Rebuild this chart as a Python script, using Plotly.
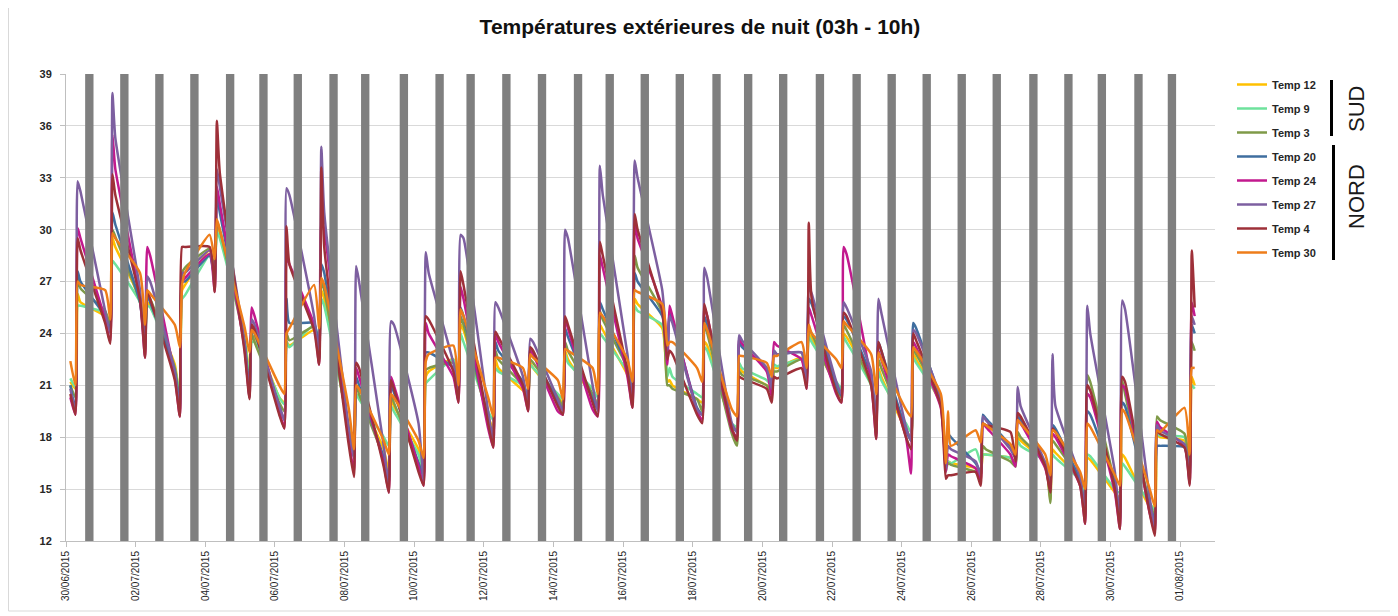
import plotly.graph_objects as go
from datetime import datetime, timedelta

# ---------------- data ----------------
start_day = "2015-06-30"
n_days = 33
# sampled hours of each night: 03h, trough before sunrise, peak, 10h
sample_hours = [3.0, 6.5, 8.0, 10.0]

series_names = ["Temp 12", "Temp 9", "Temp 3", "Temp 20", "Temp 24", "Temp 27", "Temp 4", "Temp 30"]
series_colors = ["#FFC000", "#6EE29C", "#7F9A48", "#3F6E9F", "#C2198E", "#7D5FA0", "#9E3039", "#EE7D1A"]

temp_12 = [[21.2,20.8,26.3,25.8],[25.0,24.5,29.5,29.0],[26.0,23.8,25.8,25.6],[22.2,20.3,26.5,26.8],
           [28.8,27.8,30.2,29.8],[24.0,21.5,23.8,23.8],[20.3,20.0,23.5,23.3],[24.2,23.5,26.5,26.0],
           [18.5,17.2,20.5,20.3],[17.3,16.0,20.2,19.8],[17.3,16.0,21.5,21.8],[22.5,21.0,24.5,24.2],
           [19.2,18.5,22.5,22.0],[20.7,20.3,22.3,22.0],[20.3,20.0,23.0,22.5],[20.4,20.0,24.5,24.2],
           [21.6,20.5,26.0,25.7],[24.3,21.2,21.3,21.0],[20.2,20.0,23.5,23.3],[18.7,18.5,22.0,21.8],
           [21.0,20.8,22.0,22.0],[22.6,21.8,24.0,23.7],[21.0,20.6,24.0,23.8],[21.2,19.0,22.0,21.5],
           [18.4,18.0,22.8,22.5],[19.9,16.2,16.6,16.5],[16.2,15.8,17.0,17.0],[16.8,16.5,18.0,17.8],
           [16.5,14.4,17.3,17.1],[15.6,14.5,16.8,16.7],[14.8,14.5,17.0,16.8],[14.0,14.0,18.2,18.0],
           [17.8,16.2,21.5,21.0]]
temp_9 = [[21.4,20.9,25.6,25.6],[25.2,24.6,28.2,28.0],[25.8,24.0,25.6,25.5],[22.0,20.5,26.0,26.2],
          [28.5,27.5,29.9,29.5],[23.8,21.3,23.5,23.5],[20.3,19.9,23.5,23.2],[24.5,23.6,26.0,25.6],
          [18.6,17.2,20.5,20.2],[18.0,17.5,19.8,19.5],[17.0,16.0,21.1,21.3],[22.5,21.0,24.0,23.5],
          [19.5,19.0,22.0,21.8],[21.0,20.5,22.2,22.0],[20.5,20.2,22.8,22.3],[20.8,20.3,24.0,23.8],
          [21.8,20.8,25.6,25.3],[24.5,21.5,22.0,21.5],[20.5,20.3,23.2,23.0],[18.8,18.6,22.3,22.0],
          [21.3,21.0,22.2,22.1],[22.5,21.8,23.8,23.5],[21.2,20.8,23.8,23.5],[21.0,19.5,21.8,21.3],
          [18.8,18.3,22.6,22.3],[20.0,16.0,16.6,16.5],[17.3,16.5,17.0,17.0],[16.8,16.5,17.8,17.5],
          [16.6,15.3,17.0,16.8],[15.5,14.5,17.0,16.9],[15.0,14.8,16.5,16.3],[14.2,13.8,18.2,18.1],
          [18.0,16.3,21.0,20.8]]
temp_3 = [[21.0,20.3,27.2,26.6],[25.3,24.5,30.0,29.6],[25.8,23.5,26.2,26.0],[22.0,20.0,27.5,27.8],
          [28.9,27.5,30.5,30.0],[23.5,20.8,24.0,23.5],[20.0,19.5,24.0,23.6],[24.4,23.3,27.0,26.5],
          [18.3,16.8,21.0,20.5],[16.8,15.5,20.5,20.0],[16.5,15.8,21.9,22.0],[22.3,20.8,25.0,24.5],
          [19.0,18.0,23.0,22.5],[21.0,20.0,22.5,22.3],[20.3,19.8,23.5,23.0],[20.5,19.8,25.3,24.8],
          [22.0,20.3,28.5,27.8],[25.2,21.0,21.0,20.8],[20.2,19.5,24.5,24.0],[18.2,17.5,21.8,21.6],
          [21.0,20.5,21.8,21.8],[22.5,21.5,24.3,24.0],[20.8,20.3,24.5,24.2],[21.0,18.5,22.5,22.0],
          [18.5,17.8,23.0,22.8],[20.0,16.3,16.5,16.4],[16.0,15.8,17.5,17.3],[16.6,16.3,18.3,18.0],
          [16.5,14.2,17.8,17.6],[15.5,13.8,21.6,21.2],[15.3,13.5,21.3,20.5],[14.2,13.5,19.2,19.0],
          [18.2,16.0,23.5,23.0]]
temp_20 = [[21.0,19.6,27.6,27.0],[25.0,24.2,31.0,30.3],[25.8,23.2,26.2,25.8],[21.8,19.8,27.0,27.0],
           [28.5,27.2,32.0,31.0],[23.5,20.6,24.3,24.0],[19.8,19.0,26.0,24.6],[24.6,23.0,28.0,27.5],
           [18.3,16.8,21.5,21.0],[16.8,15.3,21.0,20.6],[16.5,15.7,22.9,22.9],[22.0,20.5,25.5,25.0],
           [19.0,18.0,23.5,23.0],[21.2,20.0,23.0,22.8],[20.0,19.6,24.3,23.8],[20.2,19.6,25.8,25.4],
           [22.0,20.2,27.5,27.0],[25.0,22.8,25.3,24.8],[19.7,19.3,25.0,24.5],[18.7,18.3,23.5,23.2],
           [22.0,20.8,23.0,22.8],[22.9,21.5,26.0,25.7],[21.0,20.4,25.0,24.8],[21.5,18.5,23.5,23.0],
           [18.4,17.8,24.6,24.3],[20.0,16.5,18.2,18.0],[16.5,16.0,19.3,19.1],[17.5,16.8,19.2,19.0],
           [16.4,15.2,18.7,18.5],[15.5,13.8,19.5,19.3],[15.3,13.5,20.0,19.8],[14.0,13.3,17.5,17.5],
           [17.4,15.8,24.5,24.0]]
temp_24 = [[20.3,19.3,30.1,29.5],[24.8,23.5,35.5,33.5],[26.0,22.6,29.0,28.5],[21.5,19.2,27.0,27.2],
           [28.6,26.4,32.5,31.5],[23.2,20.3,25.5,25.0],[19.5,18.5,28.4,28.0],[24.5,22.2,30.5,30.0],
           [17.8,16.0,22.0,21.5],[16.5,14.8,21.5,21.0],[16.3,15.2,24.6,24.0],[21.5,20.0,26.7,26.0],
           [18.5,17.4,24.0,23.5],[20.8,19.5,23.0,22.8],[19.5,19.3,24.8,24.3],[19.6,19.2,28.5,27.8],
           [21.5,19.7,30.3,29.5],[25.5,22.2,25.6,25.0],[19.5,19.0,25.5,25.0],[18.4,18.0,23.7,23.4],
           [21.8,20.3,23.5,23.3],[22.5,20.8,25.5,25.0],[20.5,20.0,29.0,28.6],[21.2,17.9,23.0,22.5],
           [18.0,15.9,23.5,23.2],[19.7,16.0,17.0,16.9],[16.2,15.5,18.8,18.6],[17.0,16.3,19.0,18.8],
           [16.2,15.0,18.2,18.0],[15.2,13.0,20.5,20.3],[14.8,12.7,21.0,20.8],[13.6,12.5,18.9,18.6],
           [17.5,15.3,25.8,25.0]]
temp_27 = [[20.8,19.5,32.8,32.2],[25.3,24.0,37.9,35.3],[26.5,23.0,27.3,27.0],[21.8,19.5,27.5,27.5],
           [28.8,26.8,33.5,32.5],[23.5,20.3,24.8,24.5],[19.8,19.0,32.4,32.0],[25.0,22.5,34.8,31.0],
           [18.5,16.8,27.9,27.0],[17.5,15.2,24.7,24.5],[18.8,15.5,28.7,27.5],[22.3,20.3,29.7,29.5],
           [19.5,17.8,25.8,25.5],[21.5,19.8,23.7,23.5],[20.2,19.5,30.0,29.5],[21.0,19.5,33.7,32.0],
           [22.8,20.0,34.0,33.0],[26.5,23.0,25.0,24.6],[19.6,19.3,27.8,27.2],[18.8,18.3,23.9,23.6],
           [22.0,20.8,23.0,22.8],[22.9,21.2,26.7,26.3],[21.2,20.5,25.8,25.5],[21.8,18.2,26.0,25.2],
           [18.6,17.8,24.2,24.0],[20.2,16.2,17.5,17.3],[16.6,15.8,19.2,19.0],[17.3,16.8,20.9,19.8],
           [16.5,15.3,22.8,19.8],[15.7,13.5,25.6,24.0],[16.0,13.2,25.9,25.4],[14.5,12.7,18.7,18.4],
           [17.6,15.5,25.0,24.5]]
temp_4 = [[20.5,19.3,29.5,28.8],[24.6,23.4,33.2,32.0],[26.0,22.6,26.5,26.0],[21.3,19.2,29.0,29.0],
          [29.0,26.4,36.3,33.3],[23.0,20.2,24.5,24.2],[19.3,18.5,30.2,28.0],[24.2,22.2,33.6,29.0],
          [17.5,15.7,22.3,22.0],[16.3,14.8,21.3,20.8],[16.0,15.2,25.0,24.8],[21.8,20.0,27.6,26.8],
          [18.8,17.4,24.1,23.8],[21.0,19.5,23.2,23.0],[19.8,19.3,25.0,24.5],[20.0,19.2,29.3,28.5],
          [21.8,19.7,30.9,30.0],[25.3,22.5,23.0,22.8],[19.3,18.8,25.7,25.0],[18.5,17.8,21.5,21.4],
          [20.8,20.0,21.5,21.4],[22.0,20.8,30.4,26.0],[20.6,20.0,25.2,25.0],[21.0,17.9,23.5,23.0],
          [18.0,17.3,24.0,23.6],[19.8,15.6,15.8,15.8],[16.0,15.2,18.8,18.7],[18.3,16.6,19.4,19.2],
          [16.3,14.8,18.5,18.3],[15.2,13.0,21.0,20.7],[15.0,12.7,21.5,21.2],[13.6,12.3,18.4,18.2],
          [17.4,15.2,28.8,25.5]]
temp_30 = [[22.4,21.0,27.0,26.8],[26.5,24.8,29.8,29.5],[27.5,24.5,26.5,26.3],[24.5,23.2,26.8,27.5],
           [29.7,28.3,30.6,30.0],[24.4,22.9,24.2,24.0],[21.0,20.5,24.0,24.3],[26.8,24.3,27.2,26.8],
           [19.6,17.3,21.0,20.8],[17.8,17.0,20.5,20.3],[17.8,16.8,22.4,22.8],[23.3,21.0,25.4,25.0],
           [20.3,19.2,22.6,22.6],[22.0,20.8,22.8,22.6],[21.3,20.2,23.1,23.0],[22.0,20.5,25.2,25.0],
           [22.5,21.2,26.5,26.4],[25.7,23.3,23.5,23.5],[22.0,21.2,24.6,24.2],[19.6,19.2,22.7,22.7],
           [22.3,21.5,22.7,22.7],[23.5,22.0,24.5,24.0],[22.5,22.0,24.7,24.5],[22.8,20.5,22.9,22.5],
           [19.6,19.2,23.2,23.0],[20.5,16.5,19.5,17.5],[18.4,17.7,18.8,18.7],[17.6,17.0,19.0,18.8],
           [17.0,15.8,18.4,18.3],[16.0,15.0,18.8,18.6],[15.8,15.2,19.6,19.4],[15.0,14.0,18.4,18.3],
           [19.7,17.0,22.0,22.0]]

series_values = [temp_12, temp_9, temp_3, temp_20, temp_24, temp_27, temp_4, temp_30]

# grey day markers (day offset from 30/06, fractional)
bar_days = [0.670, 1.676, 2.682, 3.688, 4.714, 5.671, 6.657, 7.684, 8.594, 9.704, 10.730,
            11.621, 12.648, 13.671, 14.706, 15.616, 16.623, 17.629, 18.684, 19.592, 20.598,
            21.653, 22.708, 23.714, 24.720, 25.726, 26.732, 27.784, 28.790, 29.750, 30.802, 31.763]
bar_top = 39
axis_min = 12

# ---------------- build ----------------
t0 = datetime.strptime(start_day, "%Y-%m-%d")
times = []
for d in range(n_days):
    for h in sample_hours:
        times.append(t0 + timedelta(days=d, hours=h))

fig = go.Figure()
for name, color, vals in zip(series_names, series_colors, series_values):
    y = [v for day in vals for v in day]
    fig.add_trace(go.Scatter(
        x=times, y=y, mode="lines", name=name, legendgroup=name,
        line=dict(color=color, width=2.5, shape="spline", smoothing=0.5),
        hoverinfo="x+y+name"))

bar_x = [t0 + timedelta(days=b) for b in bar_days]
fig.add_trace(go.Bar(
    x=bar_x, y=[bar_top - axis_min] * len(bar_x), base=axis_min,
    width=0.24 * 86400000, marker=dict(color="#7F7F7F", line=dict(width=0)),
    showlegend=False, yaxis="y2", hoverinfo="skip"))

# The page body adds an 8px offset: figure is 1390x608 placed at (8, 8)
FIG_W, FIG_H = 1390, 608
OFF = 8
# plot area on the page: x 66..1215, y 74..541
M_L, M_T = 66 - OFF, 74 - OFF
M_R = FIG_W - (1215 - OFF)
M_B = FIG_H - (541 - OFF)

tickfont = dict(family="Liberation Sans, Arial, sans-serif", size=10, color="#262626")

fig.update_layout(
    width=FIG_W, height=FIG_H,
    margin=dict(l=M_L, r=M_R, t=M_T, b=M_B),
    paper_bgcolor="white", plot_bgcolor="white",
    title=dict(text="<b>Températures extérieures de nuit (03h - 10h)</b>",
               x=(700 - OFF) / FIG_W, xref="container", xanchor="center",
               y=1 - (27 - OFF) / FIG_H, yref="container", yanchor="middle",
               font=dict(family="Liberation Sans, Arial, sans-serif", size=21, color="#111111")),
    xaxis=dict(type="date", range=["2015-06-30", "2015-08-02"],
               tick0="2015-06-30", dtick=2 * 86400000, tickformat="%d/%m/%Y",
               tickangle=-90, tickfont=tickfont, ticks="outside", ticklen=5,
               tickcolor="#BFBFBF", showgrid=False, showline=True,
               linecolor="#BFBFBF", linewidth=1, zeroline=False),
    yaxis=dict(range=[axis_min, bar_top], tick0=12, dtick=3,
               tickfont=dict(family="Liberation Sans, Arial, sans-serif", size=11,
                             color="#262626", weight="bold"),
               ticks="outside", ticklen=5, tickcolor="#BFBFBF", ticklabelstandoff=6,
               showgrid=True, gridcolor="#D9D9D9", gridwidth=1,
               showline=True, linecolor="#BFBFBF", linewidth=1, zeroline=False),
    yaxis2=dict(range=[axis_min, bar_top], overlaying="y", visible=False),
    showlegend=True,
    legend=dict(x=(1232 - 66) / (1215 - 66), xanchor="left",
                y=1 + (74 - 70) / (541 - 74), yanchor="top",
                traceorder="grouped", tracegroupgap=5,
                font=dict(family="Liberation Sans, Arial, sans-serif", size=11,
                          color="#262626", weight="bold"),
                bgcolor="rgba(0,0,0,0)"),
    barmode="overlay",
)

# helpers: page pixel -> paper coordinates (plot area spans 66..1215 x 74..541 on the page)
def px_x(px):
    return (px - 66) / (1215 - 66)

def px_y(py):
    return (541 - py) / (541 - 74)

fig.add_shape(type="line", xref="paper", yref="paper",
              x0=px_x(1331.5), x1=px_x(1331.5), y0=px_y(80), y1=px_y(136),
              line=dict(color="#000000", width=3))
fig.add_shape(type="line", xref="paper", yref="paper",
              x0=px_x(1333.5), x1=px_x(1333.5), y0=px_y(145), y1=px_y(260),
              line=dict(color="#000000", width=3))
fig.add_annotation(text="SUD", xref="paper", yref="paper", x=px_x(1356), y=px_y(109),
                   xanchor="center", yanchor="middle",
                   showarrow=False, textangle=-90,
                   font=dict(family="Liberation Sans, Arial, sans-serif", size=22, color="#1a1a1a"))
fig.add_annotation(text="NORD", xref="paper", yref="paper", x=px_x(1356), y=px_y(197),
                   xanchor="center", yanchor="middle",
                   showarrow=False, textangle=-90,
                   font=dict(family="Liberation Sans, Arial, sans-serif", size=22, color="#1a1a1a"))

# outer chart border
fig.add_shape(type="rect", xref="paper", yref="paper",
              x0=px_x(8.5), x1=px_x(1392), y0=px_y(611), y1=px_y(6),
              line=dict(color="#D9D9D9", width=1), layer="below")

fig.write_html("out.html")
